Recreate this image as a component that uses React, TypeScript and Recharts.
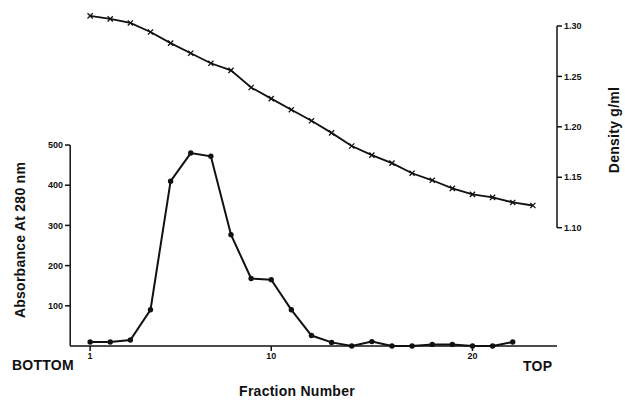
import { LineChart, Line, XAxis, YAxis, ReferenceLine } from "recharts"

// fraction number, bottom (1) to top of the gradient
const fractions = [1, 2, 3, 4, 5, 6, 7, 8, 9, 10, 11, 12, 13, 14, 15, 16, 17, 18, 19, 20, 21, 22, 23]

// absorbance at 280 nm, fractions 1-22
const absorbance = [10, 10, 15, 90, 410, 480, 472, 277, 168, 165, 90, 26, 9, 0, 11, 0, 0, 4, 4, 0, 0, 10]

// density g/ml, fractions 1-23
const density = [
    1.31, 1.307, 1.303, 1.294, 1.283, 1.273, 1.263, 1.256, 1.239, 1.228, 1.217, 1.206,
    1.194, 1.181, 1.172, 1.164, 1.154, 1.147, 1.139, 1.133, 1.13, 1.125, 1.122
]

const fractionTicks = [1, 10, 20]
const absorbanceTicks = [100, 200, 300, 400, 500]
const densityTicks = [1.1, 1.15, 1.2, 1.25, 1.3]

const ink = "#111"
const font = "'Liberation Sans', Arial, Helvetica, sans-serif"

const rows = fractions.map((f, i) => ({
    fraction: f,
    absorbance: i < absorbance.length ? absorbance[i] : null,
    density: density[i]
}))

// both panels share one plot box; absorbance uses the lower 201px,
// density reaches 1.10 about 118px above the baseline
const absorbanceDomain = [0, 846.3]
const densityDomain = [0.9827, 1.32]
const xDomain = [0, 24.2]

const css = `
.recharts-cartesian-axis-tick-value { font-family: ${font}; font-size: 9px; font-weight: 700; fill: ${ink}; }
.xAxis .recharts-cartesian-axis-tick-value { font-weight: 400; }
.title { position: absolute; font-family: ${font}; font-size: 14px; font-weight: 700; line-height: 14px;
  letter-spacing: 0.25px; color: ${ink}; white-space: nowrap; }
`

function CrossDot(props: any) {
    const { cx, cy, index } = props
    if (cx == null || cy == null) return null
    const s = 2.6
    return (
        <path
            key={index}
            d={`M${cx - s},${cy - s}L${cx + s},${cy + s}M${cx - s},${cy + s}L${cx + s},${cy - s}`}
            stroke={ink}
            strokeWidth={1.3}
            fill="none"
        />
    )
}

function RoundDot(props: any) {
    const { cx, cy, index } = props
    if (cx == null || cy == null) return null
    return <circle key={index} cx={cx} cy={cy} r={2.7} fill={ink} />
}

export default function App() {
    return (
        <div style={{ position: "absolute", left: 0, top: 0, width: 625, height: 400, background: "#fff" }}>
            <style>{css}</style>

            <LineChart width={625} height={400} data={rows} margin={{ top: 5.8, right: 0, bottom: 24, left: 0 }}>
                <XAxis
                    dataKey="fraction"
                    type="number"
                    domain={xDomain}
                    ticks={fractionTicks}
                    height={30}
                    tickSize={5}
                    stroke={ink}
                    strokeWidth={1.5}
                />
                <YAxis
                    yAxisId="abs"
                    domain={absorbanceDomain}
                    ticks={absorbanceTicks}
                    width={70}
                    tickSize={5}
                    axisLine={false}
                    stroke={ink}
                    strokeWidth={1.5}
                />
                <YAxis
                    yAxisId="den"
                    orientation="right"
                    domain={densityDomain}
                    ticks={densityTicks}
                    width={68}
                    tickSize={5}
                    axisLine={false}
                    stroke={ink}
                    strokeWidth={1.5}
                    tickFormatter={(v: number) => v.toFixed(2)}
                />

                {/* vertical axis lines, each only as long as its scale */}
                <ReferenceLine
                    yAxisId="abs"
                    segment={[{ x: 0.01, y: 0.5 }, { x: 0.01, y: 500 }]}
                    stroke={ink}
                    strokeWidth={1.5}
                />
                <ReferenceLine
                    yAxisId="den"
                    segment={[{ x: 24.2, y: 1.1 }, { x: 24.2, y: 1.3 }]}
                    stroke={ink}
                    strokeWidth={1.5}
                />

                <Line
                    yAxisId="den"
                    dataKey="density"
                    stroke={ink}
                    strokeWidth={1.8}
                    dot={<CrossDot />}
                    activeDot={false}
                    isAnimationActive={false}
                />
                <Line
                    yAxisId="abs"
                    dataKey="absorbance"
                    stroke={ink}
                    strokeWidth={2}
                    dot={<RoundDot />}
                    activeDot={false}
                    isAnimationActive={false}
                />
            </LineChart>

            <div className="title" style={{ left: -80.5, top: 233, width: 200, textAlign: "center", transform: "rotate(-90deg)" }}>
                Absorbance At 280 nm
            </div>
            <div className="title" style={{ left: 514, top: 123, width: 200, textAlign: "center", transform: "rotate(-90deg)" }}>
                Density g/ml
            </div>
            <div className="title" style={{ left: 12, top: 358 }}>
                BOTTOM
            </div>
            <div className="title" style={{ left: 523, top: 359 }}>
                TOP
            </div>
            <div className="title" style={{ left: 197, top: 384, width: 200, textAlign: "center" }}>
                Fraction Number
            </div>
        </div>
    )
}
